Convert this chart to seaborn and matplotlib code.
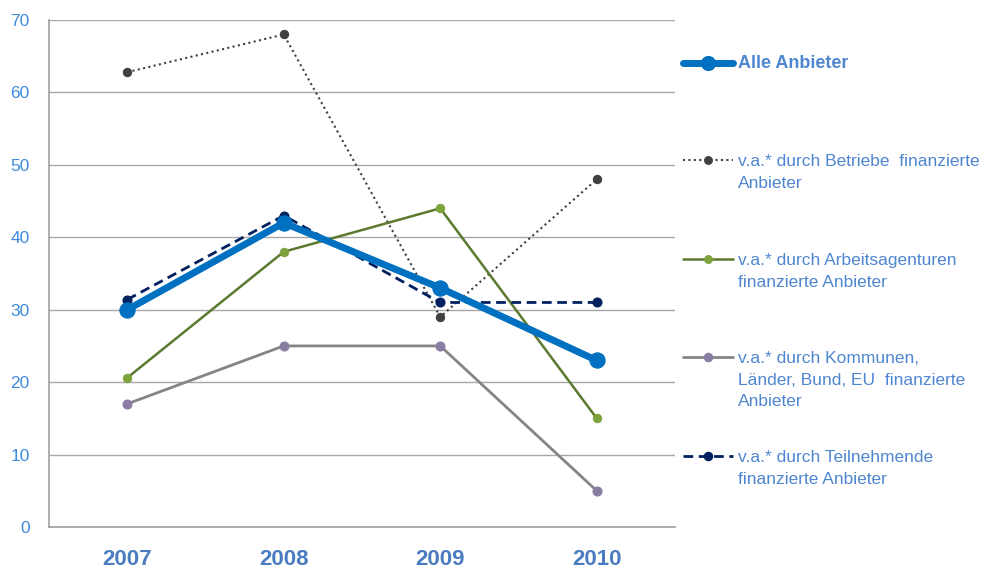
import pandas as pd
import matplotlib.pyplot as plt
import seaborn as sns
from matplotlib.lines import Line2D

years = ['2007', '2008', '2009', '2010']
alle = [30, 42, 33, 23]
betriebe = [62.8, 68, 29, 48]
arbeitsagenturen = [20.6, 38, 44, 15]
kommunen = [17, 25, 25, 5]
teilnehmende = [31.4, 43, 31, 31]

lab_alle = 'Alle Anbieter'
lab_betriebe = 'v.a.* durch Betriebe  finanzierte\nAnbieter'
lab_arbeit = 'v.a.* durch Arbeitsagenturen\nfinanzierte Anbieter'
lab_kommunen = 'v.a.* durch Kommunen,\nLänder, Bund, EU  finanzierte\nAnbieter'
lab_teilnehmende = 'v.a.* durch Teilnehmende\nfinanzierte Anbieter'

sns.set_style('white')
plt.rcParams['font.family'] = ['Liberation Sans', 'DejaVu Sans']

fig = plt.figure(figsize=(9.87, 5.69), dpi=100)
ax = fig.add_axes([49 / 987, 1 - 527 / 569, (675 - 49) / 987, (527 - 20) / 569])

# name, values, label, line colour, marker colour, line width, dash, marker size
series = [
    ('betriebe', betriebe, lab_betriebe, '#404040', '#404040', 1.5, (0, (1, 1.6)), 6),
    ('arbeit', arbeitsagenturen, lab_arbeit, '#5b7a30', '#7da33c', 1.8, '-', 6),
    ('kommunen', kommunen, lab_kommunen, '#858585', '#8a7da3', 2.0, '-', 6.5),
    ('teilnehmende', teilnehmende, lab_teilnehmende, '#002060', '#002060', 2.0, (0, (3.5, 2)), 6.5),
    ('alle', alle, lab_alle, '#0070c0', '#0070c0', 5.0, '-', 11),
]

for name, vals, lab, col, mcol, lw, ls, ms in series:
    df = pd.DataFrame({'Jahr': years, 'Wert': vals})
    sns.lineplot(data=df, x='Jahr', y='Wert', ax=ax, color=col,
                 linewidth=lw, linestyle=ls, marker='o',
                 markersize=ms, markerfacecolor=mcol,
                 markeredgecolor=mcol, sort=False)

ax.set_xlim(-0.5, 3.5)
ax.set_ylim(0, 70)
ax.set_yticks(range(0, 71, 10))
ax.set_xticks([-0.5, 0.5, 1.5, 2.5, 3.5])
ax.set_xticklabels([])
ax.set_xticks(range(4), minor=True)
ax.set_xticklabels(years, minor=True, fontsize=16, fontweight='bold', color='#4a7cc0')
ax.tick_params(axis='x', which='minor', length=0, pad=16)
ax.tick_params(axis='x', which='major', length=6, width=1, color='#a0a0a0', direction='out')
ax.tick_params(axis='y', length=6, width=1, color='#a0a0a0', direction='out',
               labelsize=12.5, labelcolor='#3d8bdc', pad=8)
ax.set_xlabel('')
ax.set_ylabel('')
ax.grid(axis='y', color='#a8a8a8', linewidth=1)
ax.set_axisbelow(True)
for s in ['top', 'right']:
    ax.spines[s].set_visible(False)
for s in ['left', 'bottom']:
    ax.spines[s].set_color('#a0a0a0')
    ax.spines[s].set_linewidth(1.2)

# legend to the right, handle at first text line
legend_order = ['alle', 'betriebe', 'arbeit', 'kommunen', 'teilnehmende']
legend_y = [63, 160, 259, 357, 456]
lookup = {s[0]: s for s in series}
for name, ypix in zip(legend_order, legend_y):
    _, _, lab, col, mcol, lw, ls, ms = lookup[name]
    yf = 1 - ypix / 569
    fig.add_artist(Line2D([683 / 987, 733 / 987], [yf, yf], color=col,
                          linewidth=lw, linestyle=ls))
    fig.add_artist(Line2D([708 / 987], [yf], marker='o', markersize=ms * 0.9,
                          markerfacecolor=mcol, markeredgecolor=mcol,
                          linestyle=''))
    if name == 'alle':
        fig.text(738 / 987, yf, lab, fontsize=13, fontweight='bold',
                 color='#4f86d0', va='center', ha='left')
    else:
        fig.text(738 / 987, yf + 6 / 569, lab, fontsize=12.5, color='#4f86d0',
                 va='top', ha='left', linespacing=1.55)

fig.savefig('out.png', dpi=100)
